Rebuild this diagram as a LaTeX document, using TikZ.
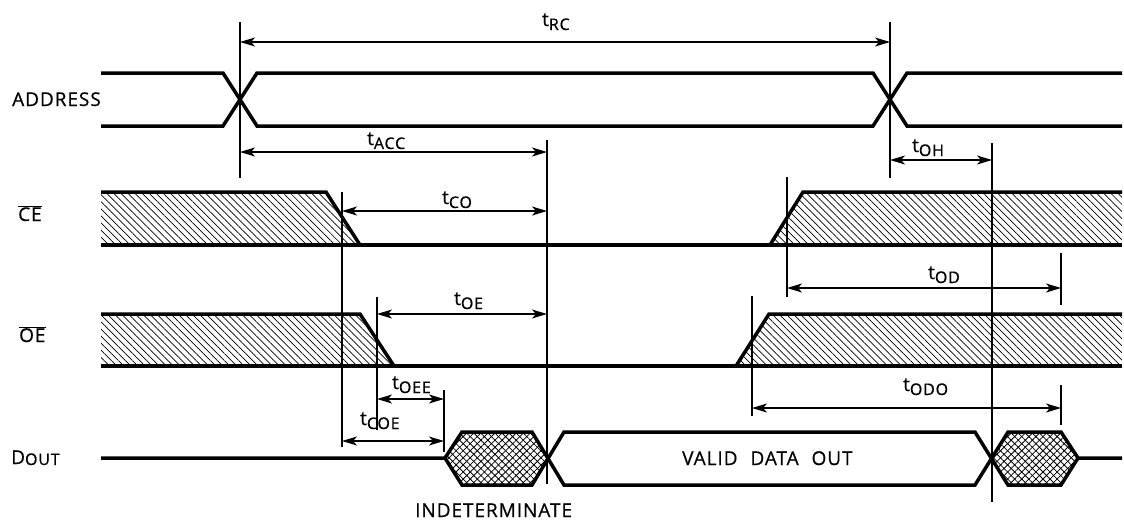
\documentclass[tikz,border=0pt]{standalone}
\usepackage{fontspec}
\setmainfont{Open Sans}[LetterSpace=5,FakeBold=0.6]
\usetikzlibrary{arrows.meta,patterns.meta}

\newcommand{\tsub}[1]{t\raisebox{-4pt}{\fontsize{16pt}{16pt}\selectfont #1}}

\tikzset{
  sig/.style={line width=3.5pt},
  tick/.style={line width=1.4pt},
  dim/.style={line width=1.4pt,{Stealth[length=15pt,width=9pt,inset=4pt]}-{Stealth[length=15pt,width=9pt,inset=4pt]}},
  lbl/.style={anchor=base west,inner sep=0pt},
  hatch/.style={pattern={Lines[angle=-45,distance=5pt,line width=0.7pt]}},
  xhatchA/.style={pattern={Lines[angle=45,distance=5pt,line width=0.8pt]}},
  xhatchB/.style={pattern={Lines[angle=-45,distance=5pt,line width=0.8pt]}}
}

\begin{document}
\begin{tikzpicture}[x=1pt,y=-1pt,font=\fontsize{19pt}{22pt}\selectfont]
\useasboundingbox (0,0) rectangle (1124,525);

%signal names
\node[lbl] (naddr) at (12,106) {ADDRESS};
\node[lbl] (nce) at (18,221) {$\overline{\mbox{CE}}$};
\node[lbl] (noe) at (19,342) {$\overline{\mbox{OE}}$};
\node[lbl] (ndout) at (11,464) {D\raisebox{-1pt}{\fontsize{16pt}{16pt}\selectfont OUT}};

%address
\draw[sig] (101,73) -- (223,73) -- (257,126) -- (873,126) -- (907,73) -- (1122,73);
\draw[sig] (101,126) -- (223,126) -- (257,73) -- (873,73) -- (907,126) -- (1122,126);

%ce, falling and rising
\fill[hatch] (101,192) -- (326,192) -- (360,245) -- (101,245) -- cycle;
\fill[hatch] (770,245) -- (803,192) -- (1122,192) -- (1122,245) -- cycle;
\draw[sig] (101,192) -- (326,192) -- (360,245);
\draw[sig] (770,245) -- (803,192) -- (1122,192);
\draw[sig] (101,245) -- (1122,245);

%oe, falling and rising
\fill[hatch] (101,314) -- (360,314) -- (394,366) -- (101,366) -- cycle;
\fill[hatch] (736,366) -- (769,314) -- (1122,314) -- (1122,366) -- cycle;
\draw[sig] (101,314) -- (360,314) -- (394,366);
\draw[sig] (736,366) -- (769,314) -- (1122,314);
\draw[sig] (101,366) -- (1122,366);

%dout
\fill[xhatchA] (445,458) -- (462,432) -- (532,432) -- (547,458) -- (532,485) -- (462,485) -- cycle;
\fill[xhatchB] (445,458) -- (462,432) -- (532,432) -- (547,458) -- (532,485) -- (462,485) -- cycle;
\fill[xhatchA] (992,458) -- (1008,432) -- (1061,432) -- (1078,458) -- (1061,485) -- (1008,485) -- cycle;
\fill[xhatchB] (992,458) -- (1008,432) -- (1061,432) -- (1078,458) -- (1061,485) -- (1008,485) -- cycle;
\draw[sig] (101,458) -- (445,458) -- (462,432) -- (532,432) -- (564,485) -- (975,485) -- (1008,432) -- (1061,432) -- (1078,458) -- (1122,458);
\draw[sig] (445,458) -- (462,485) -- (532,485) -- (564,432) -- (975,432) -- (1008,485) -- (1061,485) -- (1078,458);
\node[lbl] (nvalid) at (682,465) {VALID\hspace*{7pt} DATA\hspace*{7pt} OUT};
\node[lbl] (nind) at (415,517) {INDETERMINATE};

%reference lines
\draw[tick] (240,22) -- (240,178);
\draw[tick] (890,22) -- (890,178);
\draw[tick] (547,140) -- (547,484);
\draw[tick] (342,192) -- (342,447);
\draw[tick] (377,297) -- (377,430);
\draw[tick] (444,390) -- (444,452);
\draw[tick] (992,143) -- (992,502);
\draw[tick] (787,177) -- (787,297);
\draw[tick] (1061,253) -- (1061,305);
\draw[tick] (752,296) -- (752,416);
\draw[tick] (1061,385) -- (1061,425);

%timing arrows
\coordinate (rc1) at (240,42);   \coordinate (rc2) at (890,42);
\coordinate (acc1) at (240,152); \coordinate (acc2) at (547,152);
\coordinate (co1) at (342,211);  \coordinate (co2) at (547,211);
\coordinate (oe1) at (377,314);  \coordinate (oe2) at (547,314);
\coordinate (oee1) at (377,399); \coordinate (oee2) at (444,399);
\coordinate (coe1) at (342,441); \coordinate (coe2) at (444,441);
\coordinate (oh1) at (890,160);  \coordinate (oh2) at (992,160);
\coordinate (od1) at (787,288);  \coordinate (od2) at (1061,288);
\coordinate (odo1) at (752,408); \coordinate (odo2) at (1061,408);
\draw[dim] (rc1) -- (rc2);
\draw[dim] (acc1) -- (acc2);
\draw[dim] (co1) -- (co2);
\draw[dim] (oe1) -- (oe2);
\draw[dim] (oee1) -- (oee2);
\draw[dim] (coe1) -- (coe2);
\draw[dim] (oh1) -- (oh2);
\draw[dim] (od1) -- (od2);
\draw[dim] (odo1) -- (odo2);

%timing labels
\node[lbl] (trc) at (542,26) {\tsub{RC}};
\node[lbl] (tacc) at (367,145) {\tsub{ACC}};
\node[lbl] (tco) at (442,204) {\tsub{CO}};
\node[lbl] (toe) at (454,305) {\tsub{OE}};
\node[lbl] (toee) at (392,389) {\tsub{OEE}};
\node[lbl] (tcoe) at (360,425) {\tsub{COE}};
\node[lbl] (toh) at (912,152) {\tsub{OH}};
\node[lbl] (tod) at (928,279) {\tsub{OD}};
\node[lbl] (todo) at (903,391) {\tsub{ODO}};

\end{tikzpicture}
\end{document}
